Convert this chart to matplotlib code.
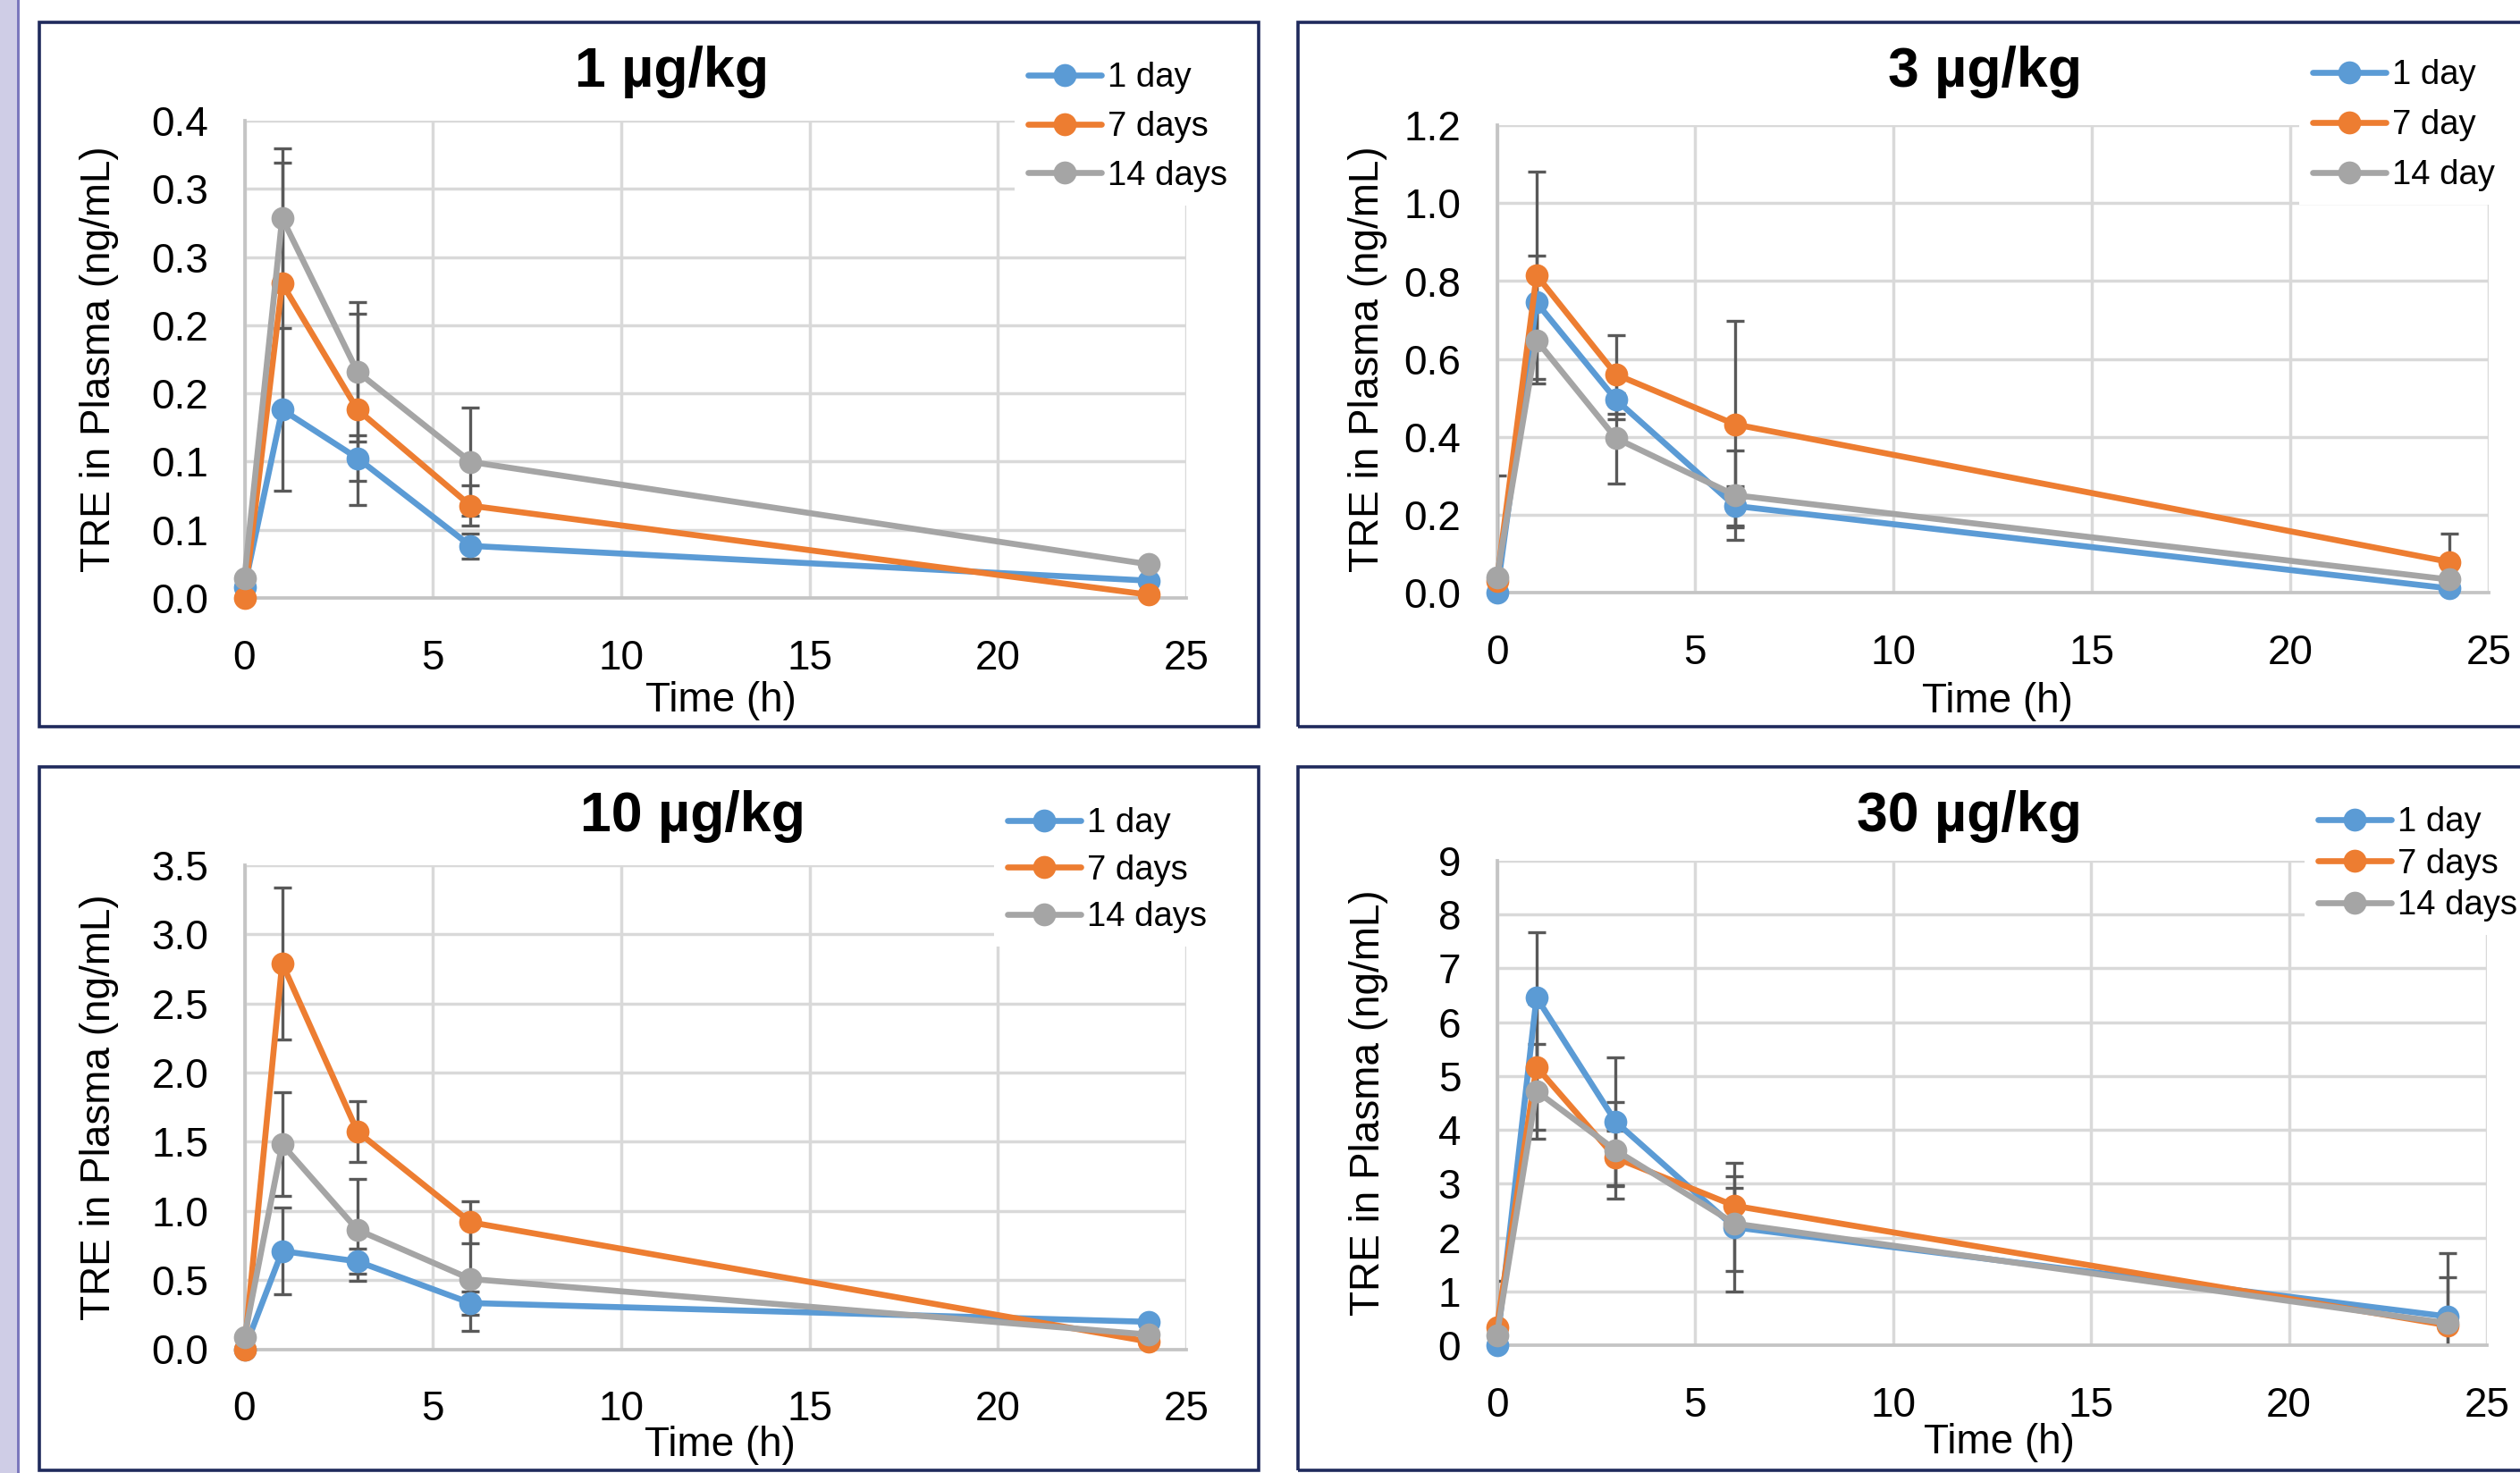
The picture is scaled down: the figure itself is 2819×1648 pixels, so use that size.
import matplotlib
matplotlib.use("Agg")
import matplotlib.pyplot as plt
from matplotlib.patches import Rectangle
import numpy as np

plt.rcParams['font.family'] = ['Liberation Sans', 'DejaVu Sans']

# ---------------- data ----------------
time_h = [0, 1, 3, 6, 24]
series_labels_a = ["1 day", "7 days", "14 days"]
series_labels_b = ["1 day", "7 day", "14 day"]
titles = ["1 \u00b5g/kg", "3 \u00b5g/kg", "10 \u00b5g/kg", "30 \u00b5g/kg"]

# 1 ug/kg
p1_day1 = [0.008, 0.1381, 0.1025, 0.0382, 0.0127]
p1_day7 = [0.0, 0.2305, 0.1381, 0.0677, 0.0024]
p1_day14 = [0.0147, 0.2786, 0.1658, 0.0998, 0.0247]
p1_err1 = [0, 0.0596, 0.0168, 0.0092, 0]
p1_err7 = [0, 0.089, 0.070, 0.0147, 0]
p1_err14 = [0, 0.051, 0.0509, 0.0398, 0]

# 3 ug/kg
p2_day1 = [0.0, 0.745, 0.496, 0.2235, 0.012]
p2_day7 = [0.03, 0.815, 0.5605, 0.4327, 0.080]
p2_day14 = [0.0406, 0.648, 0.397, 0.251, 0.0347]
p2_err1 = [0, 0.12, 0.05, 0.05, 0]
p2_err7 = [0, 0.265, 0.10, 0.265, 0.072]
p2_err14 = [0.26, 0.11, 0.116, 0.114, 0]

# 10 ug/kg
p3_day1 = [0.0, 0.71, 0.635, 0.334, 0.198]
p3_day7 = [0.0, 2.79, 1.573, 0.918, 0.055]
p3_day14 = [0.089, 1.481, 0.863, 0.508, 0.106]
p3_err1 = [0, 0.315, 0.09, 0.086, 0]
p3_err7 = [0, 0.55, 0.222, 0.15, 0]
p3_err14 = [0, 0.375, 0.37, 0.378, 0]

# 30 ug/kg
p4_day1 = [0.0, 6.46, 4.15, 2.19, 0.534]
p4_day7 = [0.33, 5.17, 3.48, 2.59, 0.37]
p4_day14 = [0.19, 4.72, 3.62, 2.26, 0.41]
p4_err1 = [0, 1.21, 1.2, 1.2, 1.17]
p4_err7 = [0.87, 1.165, 0.5, 0.33, 0.1]
p4_err14 = [0, 0.88, 0.89, 0.88, 0.86]

x_ticks = [0, 5, 10, 15, 20, 25]
p1_yticks = [0, 0.05, 0.10, 0.15, 0.20, 0.25, 0.30, 0.35]
p1_ylabels = ["0.0", "0.1", "0.1", "0.2", "0.2", "0.3", "0.3", "0.4"]
p2_yticks = [0, 0.2, 0.4, 0.6, 0.8, 1.0, 1.2]
p2_ylabels = ["0.0", "0.2", "0.4", "0.6", "0.8", "1.0", "1.2"]
p3_yticks = [0, 0.5, 1.0, 1.5, 2.0, 2.5, 3.0, 3.5]
p3_ylabels = ["0.0", "0.5", "1.0", "1.5", "2.0", "2.5", "3.0", "3.5"]
p4_yticks = [0, 1, 2, 3, 4, 5, 6, 7, 8, 9]
p4_ylabels = ["0", "1", "2", "3", "4", "5", "6", "7", "8", "9"]

# ---------------- style ----------------
W, H = 2819, 1648
fig = plt.figure(figsize=(W / 100, H / 100), dpi=100)
fig.patch.set_facecolor("white")

colors = ["#5B9BD5", "#ED7D31", "#A5A5A5"]
navy = "#1F2A5C"

# left decorative strip
fig.patches.append(Rectangle((0, 0), 19 / W, 1, transform=fig.transFigure,
                             facecolor="#CFCDE6", edgecolor="none", zorder=0))
fig.patches.append(Rectangle((19 / W, 0), 2.5 / W, 1, transform=fig.transFigure,
                             facecolor="#7B78BD", edgecolor="none", zorder=0))

# panel frames (pixel boxes: left, top, right, bottom)
frames = [(43.5, 24.6, 1408, 813), (1451.5, 24.6, 2840, 813),
          (43.5, 858, 1408, 1645), (1451.5, 858, 2840, 1645)]
for (l, t, r, b) in frames:
    fig.patches.append(Rectangle((l / W, 1 - b / H), (r - l) / W, (b - t) / H,
                                 transform=fig.transFigure, facecolor="none",
                                 edgecolor=navy, linewidth=2.6, zorder=1))

# axes boxes in pixels: left, top, right, bottom
axes_px = [(273.5, 135, 1327, 669), (1674.5, 140, 2784, 663.5),
           (273.5, 968, 1327, 1509.5), (1674.5, 963, 2782, 1505)]

panels = [
    (p1_day1, p1_day7, p1_day14, p1_err1, p1_err7, p1_err14, 0.35, p1_yticks, p1_ylabels, series_labels_a),
    (p2_day1, p2_day7, p2_day14, p2_err1, p2_err7, p2_err14, 1.2, p2_yticks, p2_ylabels, series_labels_b),
    (p3_day1, p3_day7, p3_day14, p3_err1, p3_err7, p3_err14, 3.5, p3_yticks, p3_ylabels, series_labels_a),
    (p4_day1, p4_day7, p4_day14, p4_err1, p4_err7, p4_err14, 9.0, p4_yticks, p4_ylabels, series_labels_a),
]

title_pos = [(751, 97), (2221, 97), (775, 930), (2203, 930)]
xlabel_pos = [(0.506, -0.215), (0.505, -0.233), (0.505, -0.198), (0.507, -0.202)]
ylabel_x = [-0.154, -0.130, -0.154, -0.130]
# legend: anchor (px), labelspacing
legend_cfg = [((1135, 54), 0.49), ((2572, 51), 0.52), ((1112, 888), 0.43), ((2578, 887), 0.27)]

for i, (d1, d7, d14, e1, e7, e14, ymax, yt, ytl, labs) in enumerate(panels):
    l, t, r, b = axes_px[i]
    ax = fig.add_axes([l / W, 1 - b / H, (r - l) / W, (b - t) / H])
    ax.set_facecolor("none")
    ax.set_xlim(0, 25)
    ax.set_ylim(0, ymax)
    ax.set_xticks(x_ticks)
    ax.set_yticks(yt)
    ax.set_yticklabels(ytl)
    ax.set_axisbelow(True)
    ax.grid(True, color="#D9D9D9", linewidth=2.5)
    for s in ["top", "right"]:
        ax.spines[s].set_visible(False)
    for s in ["left", "bottom"]:
        ax.spines[s].set_color("#C4C4C4")
        ax.spines[s].set_linewidth(2.7)
    ax.tick_params(axis="both", length=0, labelsize=33, colors="black")
    ax.tick_params(axis="y", pad=29)
    ax.tick_params(axis="x", pad=33)

    ys = [d1, d7, d14]
    es = [e1, e7, e14]
    for k in range(3):
        ax.errorbar(time_h, ys[k], yerr=es[k], fmt="none", ecolor="#595959",
                    elinewidth=2.4, capsize=7.5, capthick=2.4, zorder=2)
    handles = []
    for k in range(3):
        ln, = ax.plot(time_h, ys[k], color=colors[k], linewidth=4.8, marker="o",
                      markersize=18.5, markeredgewidth=0, zorder=3 + k,
                      clip_on=False, solid_capstyle="round", label=labs[k])
        handles.append(ln)

    ax.set_xlabel("Time (h)", fontsize=33)
    ax.xaxis.set_label_coords(*xlabel_pos[i])
    ax.xaxis.label.set_va("center")
    ax.set_ylabel("TRE in Plasma (ng/mL)", fontsize=33)
    ax.yaxis.set_label_coords(ylabel_x[i], 0.5)
    ax.yaxis.label.set_va("center")

    (lx, ly), ls = legend_cfg[i]
    leg = ax.legend(handles=handles, loc="upper left",
                    bbox_to_anchor=(lx / W, 1 - ly / H), bbox_transform=fig.transFigure,
                    fontsize=27.5, frameon=True, fancybox=False, framealpha=1,
                    facecolor="white", edgecolor="none", borderpad=0.4,
                    borderaxespad=0, handlelength=2.15, handletextpad=0.17,
                    labelspacing=ls, numpoints=1)
    leg.set_zorder(10)

    tx, ty = title_pos[i]
    fig.text(tx / W, 1 - ty / H, titles[i], fontsize=45, fontweight="bold",
             ha="center", va="baseline", color="black")

fig.savefig("out.png", dpi=100, facecolor="white")
